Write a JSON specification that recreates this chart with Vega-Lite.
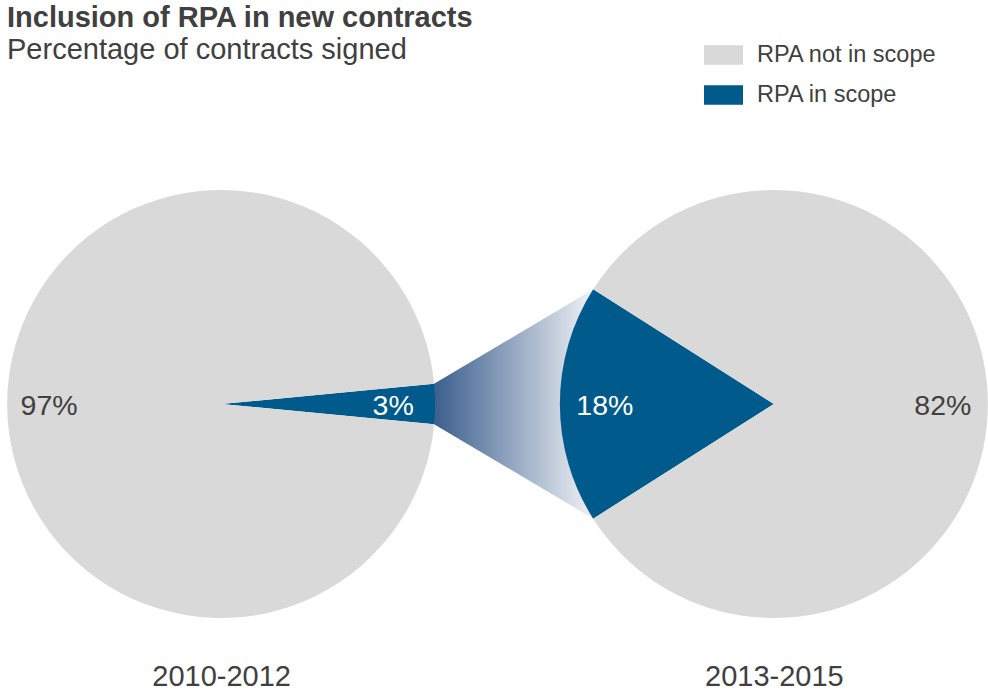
{
  "$schema": "https://vega.github.io/schema/vega-lite/v6.json",
  "width": 981,
  "height": 428,
  "autosize": {"type": "none"},
  "padding": {"left": 7, "top": 190, "right": 0, "bottom": 81},
  "background": "white",
  "config": {
    "font": "Liberation Sans",
    "view": {"stroke": null}
  },
  "title": {
    "text": "Inclusion of RPA in new contracts",
    "subtitle": "Percentage of contracts signed",
    "anchor": "start",
    "frame": "group",
    "font": "Liberation Sans",
    "subtitleFont": "Liberation Sans",
    "fontSize": 29,
    "subtitleFontSize": 29,
    "fontWeight": "bold",
    "subtitleFontWeight": "normal",
    "color": "#404040",
    "subtitleColor": "#404040",
    "subtitlePadding": 3,
    "offset": -29
  },
  "datasets": {
    "shares": [
      {"period": "2010-2012", "category": "RPA in scope", "share": 0.03},
      {"period": "2010-2012", "category": "RPA not in scope", "share": 0.97},
      {"period": "2013-2015", "category": "RPA in scope", "share": 0.18},
      {"period": "2013-2015", "category": "RPA not in scope", "share": 0.82}
    ],
    "connector": [
      {"pos": 1.9956, "lo": -0.0941, "hi": 0.0941},
      {"pos": 2.7397, "lo": -0.5358, "hi": 0.5358}
    ]
  },
  "layer": [
    {
      "data": {"name": "connector"},
      "mark": {
        "type": "area",
        "fill": {
          "gradient": "linear",
          "x1": 0, "y1": 0, "x2": 1, "y2": 0,
          "stops": [
            {"offset": 0, "color": "#3b5e8d"},
            {"offset": 1, "color": "#f0f2f6"}
          ]
        }
      },
      "encoding": {
        "x": {"field": "pos", "type": "quantitative", "scale": {"domain": [0, 4.5841], "nice": false, "zero": false}, "axis": null},
        "y": {"field": "lo", "type": "quantitative", "scale": {"domain": [-1, 1], "nice": false, "zero": false}, "axis": null},
        "y2": {"field": "hi"}
      }
    },
    {
      "data": {"name": "shares"},
      "transform": [{"filter": "datum.period === '2010-2012'"}],
      "encoding": {
        "x": {
          "field": "period", "type": "nominal",
          "scale": {"type": "point", "domain": ["2010-2012", "2013-2015"], "padding": 0.3874},
          "axis": {"title": null, "domain": false, "ticks": false, "grid": false, "labelAngle": 0, "labelPadding": 44, "labelFontSize": 29, "labelFont": "Liberation Sans", "labelColor": "#404040"}
        },
        "theta": {"field": "share", "type": "quantitative", "stack": true, "scale": {"domain": [0, 1], "range": [1.476549, 7.759734]}},
        "order": {"field": "category", "sort": "ascending"}
      },
      "layer": [
        {
          "mark": {"type": "arc", "outerRadius": 214},
          "encoding": {
            "color": {
              "field": "category", "type": "nominal",
              "scale": {"domain": ["RPA not in scope", "RPA in scope"], "range": ["#d9d9d9", "#005a8c"]},
              "legend": {
                "orient": "none", "legendX": 697, "legendY": -154.5, "title": null,
                "symbolType": "M-1,-0.5H1V0.5H-1Z", "symbolSize": 1521, "symbolStrokeWidth": 0,
                "labelFontSize": 23.5, "labelFont": "Liberation Sans", "labelColor": "#404040",
                "labelOffset": 14, "rowPadding": 9, "labelLimit": 400
              }
            }
          }
        },
        {
          "mark": {"type": "text", "radius": 172, "fontSize": 28.5, "font": "Liberation Sans", "align": "center", "baseline": "middle", "dy": 2},
          "encoding": {
            "text": {"field": "share", "type": "quantitative", "format": ".0%"},
            "color": {"condition": {"test": "datum.category === 'RPA in scope'", "value": "#ffffff"}, "value": "#404040"}
          }
        }
      ]
    },
    {
      "data": {"name": "shares"},
      "transform": [{"filter": "datum.period === '2013-2015'"}],
      "encoding": {
        "x": {
          "field": "period", "type": "nominal",
          "scale": {"type": "point", "domain": ["2010-2012", "2013-2015"], "padding": 0.3874},
          "axis": null
        },
        "theta": {"field": "share", "type": "quantitative", "stack": true, "scale": {"domain": [0, 1], "range": [4.146902, 10.430087]}},
        "order": {"field": "category", "sort": "ascending"}
      },
      "layer": [
        {
          "mark": {"type": "arc", "outerRadius": 214},
          "encoding": {
            "color": {
              "field": "category", "type": "nominal",
              "scale": {"domain": ["RPA not in scope", "RPA in scope"], "range": ["#d9d9d9", "#005a8c"]}
            }
          }
        },
        {
          "mark": {"type": "text", "radius": 169, "fontSize": 28.5, "font": "Liberation Sans", "align": "center", "baseline": "middle", "dy": 2},
          "encoding": {
            "text": {"field": "share", "type": "quantitative", "format": ".0%"},
            "color": {"condition": {"test": "datum.category === 'RPA in scope'", "value": "#ffffff"}, "value": "#404040"}
          }
        }
      ]
    }
  ],
  "resolve": {"scale": {"x": "independent", "theta": "independent"}}
}
